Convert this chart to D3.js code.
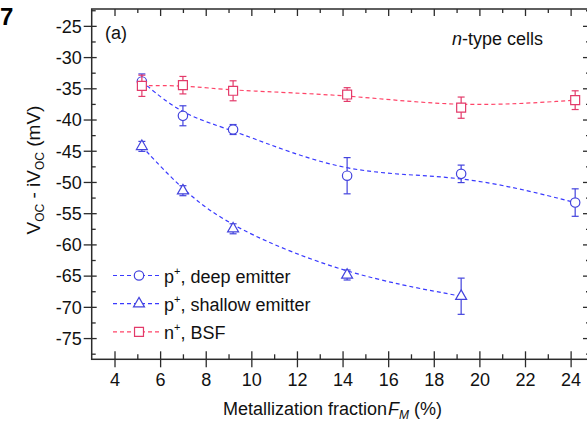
<!DOCTYPE html>
<html>
<head>
<meta charset="utf-8">
<script src="https://cdn.jsdelivr.net/npm/d3@7"></script>
<style>
  html, body { margin: 0; padding: 0; background: #fff; }
  svg { display: block; font-family: "Liberation Sans", Arial, sans-serif; }
</style>
</head>
<body>
<svg id="chart" width="587" height="422"></svg>
<script>
// Metallization fraction F_M (%) of the measured cells
const fm = [5.2, 7.0, 9.2, 14.2, 19.2, 24.2];

// Voc - iVoc (mV) with error bars, for each group of n-type cells
const deepEmitter = [-33.9, -39.4, -41.6, -49.0, -48.7, -53.3];
const deepEmitterErr = [1.2, 1.6, 0.8, 2.9, 1.4, 2.2];

const shallowEmitter = [-44.3, -51.4, -57.5, -64.9, -68.3];
const shallowEmitterErr = [0.8, 0.8, 0.8, 0.8, 2.9];

const bsf = [-34.6, -34.5, -35.4, -36.0, -38.1, -36.9];
const bsfErr = [1.7, 1.4, 1.6, 1.1, 1.7, 1.5];

const xMajorTicks = [4, 6, 8, 10, 12, 14, 16, 18, 20, 22, 24];
const xMinorTicks = [5, 7, 9, 11, 13, 15, 17, 19, 21, 23];
const yMajorTicks = [-25, -30, -35, -40, -45, -50, -55, -60, -65, -70, -75];
const yMinorTicks = [-22.5, -27.5, -32.5, -37.5, -42.5, -47.5, -52.5, -57.5, -62.5, -67.5, -72.5, -77.5];

const BLUE = "#4343dd";
const BLUE_LINE = "#3a3aff";
const RED = "#e33a6a";
const RED_LINE = "#ff4468";
const AXIS = "#2b2b2b";

const svg = d3.select("#chart");
const plotLeft = 91.7, plotTop = 9, plotRight = 590, plotBottom = 359.3;

const x = d3.scaleLinear().domain([3, 24.85]).range([plotLeft, plotRight]);
const y = d3.scaleLinear().domain([-78.4, -22.3]).range([plotBottom, plotTop]);

// series definitions
const series = [
  { name: "deep", xs: fm, ys: deepEmitter, err: deepEmitterErr, color: BLUE, line: BLUE_LINE, symbol: "circle" },
  { name: "shallow", xs: fm.slice(0, shallowEmitter.length), ys: shallowEmitter, err: shallowEmitterErr, color: BLUE, line: BLUE_LINE, symbol: "triangle" },
  { name: "bsf", xs: fm, ys: bsf, err: bsfErr, color: RED, line: RED_LINE, symbol: "square" }
];

const symbolPath = {
  circle: d3.symbol(d3.symbolCircle, Math.PI * 4.7 * 4.7)(),
  triangle: d3.symbol(d3.symbolTriangle, 52)(),
  square: d3.symbol(d3.symbolSquare, 80)()
};

// fitted dashed curves
const line = d3.line().x(d => x(d[0])).y(d => y(d[1])).curve(d3.curveBasis);
series.forEach(s => {
  svg.append("path")
    .attr("d", line(s.xs.map((v, i) => [v, s.ys[i]])))
    .attr("fill", "none")
    .attr("stroke", s.line)
    .attr("stroke-width", 1.2)
    .attr("stroke-dasharray", "4,3");
});

// error bars and markers
series.forEach(s => {
  const g = svg.append("g").attr("stroke", s.color).attr("stroke-width", 1.2).attr("fill", "none");
  s.xs.forEach((v, i) => {
    const cx = x(v), hi = y(s.ys[i] + s.err[i]), lo = y(s.ys[i] - s.err[i]);
    g.append("line").attr("x1", cx).attr("x2", cx).attr("y1", hi).attr("y2", lo);
    g.append("line").attr("x1", cx - 3.5).attr("x2", cx + 3.5).attr("y1", hi).attr("y2", hi);
    g.append("line").attr("x1", cx - 3.5).attr("x2", cx + 3.5).attr("y1", lo).attr("y2", lo);
    g.append("path").attr("d", symbolPath[s.symbol])
      .attr("transform", `translate(${cx},${y(s.ys[i])})`)
      .attr("fill", "#fff");
  });
});

// axes
function styleAxis(g) {
  g.select(".domain").remove();
  g.selectAll("line").attr("stroke", AXIS).attr("stroke-width", 1.3);
  g.selectAll("text").attr("fill", "#111").style("font-size", "18px").style("font-family", "Liberation Sans, Arial, sans-serif");
}

// bottom
const bx = svg.append("g").attr("transform", `translate(0,${plotBottom})`)
  .call(d3.axisBottom(x).tickValues(xMajorTicks).tickSize(8).tickPadding(6).tickFormat(d3.format("d")));
styleAxis(bx);
bx.selectAll(".tick line").attr("y1", -8);
const bxm = svg.append("g").attr("transform", `translate(0,${plotBottom})`)
  .call(d3.axisBottom(x).tickValues(xMinorTicks).tickSize(-5).tickFormat(""));
styleAxis(bxm);

// top
const tx = svg.append("g").attr("transform", `translate(0,${plotTop})`)
  .call(d3.axisTop(x).tickValues(xMajorTicks).tickSize(-7).tickFormat(""));
styleAxis(tx);
const txm = svg.append("g").attr("transform", `translate(0,${plotTop})`)
  .call(d3.axisTop(x).tickValues(xMinorTicks).tickSize(-4).tickFormat(""));
styleAxis(txm);

// left
const fmtY = d => d < 0 ? "-" + Math.abs(d) : String(d);
const ly = svg.append("g").attr("transform", `translate(${plotLeft},0)`)
  .call(d3.axisLeft(y).tickValues(yMajorTicks).tickSize(8).tickPadding(2).tickFormat(fmtY));
styleAxis(ly);
ly.selectAll(".tick line").attr("x1", 5);
ly.selectAll(".tick text").attr("dy", "0.35em");
const lym = svg.append("g").attr("transform", `translate(${plotLeft},0)`)
  .call(d3.axisLeft(y).tickValues(yMinorTicks).tickSize(-4).tickFormat(""));
styleAxis(lym);

// right
const ry = svg.append("g").attr("transform", `translate(${plotRight},0)`)
  .call(d3.axisRight(y).tickValues(yMajorTicks).tickSize(-7).tickFormat(""));
styleAxis(ry);
const rym = svg.append("g").attr("transform", `translate(${plotRight},0)`)
  .call(d3.axisRight(y).tickValues(yMinorTicks).tickSize(-4).tickFormat(""));
styleAxis(rym);

// frame
svg.append("rect")
  .attr("x", plotLeft).attr("y", plotTop)
  .attr("width", plotRight - plotLeft).attr("height", plotBottom - plotTop)
  .attr("fill", "none").attr("stroke", AXIS).attr("stroke-width", 1.5);

// axis titles
const xt = svg.append("text")
  .attr("x", 223).attr("y", 415)
  .attr("fill", "#111").style("font-size", "18px");
xt.append("tspan").text("Metallization fraction");
xt.append("tspan").attr("dx", 1).attr("font-style", "italic").text("F");
xt.append("tspan").attr("font-style", "italic").attr("dy", 4).style("font-size", "12px").text("M");
xt.append("tspan").attr("dy", -4).text(" (%)");

const yt = svg.append("text")
  .attr("transform", "translate(40,170) rotate(-90)")
  .attr("text-anchor", "middle")
  .attr("fill", "#111").style("font-size", "19px");
yt.append("tspan").text("V");
yt.append("tspan").attr("dy", 4).style("font-size", "12px").text("OC");
yt.append("tspan").attr("dy", -4).text(" - iV");
yt.append("tspan").attr("dy", 4).style("font-size", "12px").text("OC");
yt.append("tspan").attr("dy", -4).text(" (mV)");

// panel annotations
svg.append("text").attr("x", 105).attr("y", 39).attr("fill", "#111")
  .style("font-size", "18px").text("(a)");
const nt = svg.append("text").attr("x", 452).attr("y", 45).attr("fill", "#111").style("font-size", "18px");
nt.append("tspan").attr("font-style", "italic").text("n");
nt.append("tspan").text("-type cells");

svg.append("text").attr("x", 0).attr("y", 25).attr("fill", "#000")
  .style("font-size", "24px").style("font-weight", "bold").text("7");

// legend
const legendItems = [
  { s: series[0], sup: "+", base: "p", label: ", deep emitter" },
  { s: series[1], sup: "+", base: "p", label: ", shallow emitter" },
  { s: series[2], sup: "+", base: "n", label: ", BSF" }
];
legendItems.forEach((it, i) => {
  const cy = 275.5 + i * 28.2;
  const g = svg.append("g");
  g.append("line").attr("x1", 113).attr("x2", 160).attr("y1", cy).attr("y2", cy)
    .attr("stroke", it.s.line).attr("stroke-width", 1.2).attr("stroke-dasharray", "4,3");
  g.append("path").attr("d", symbolPath[it.s.symbol])
    .attr("transform", `translate(139,${cy})`)
    .attr("fill", "#fff").attr("stroke", it.s.color).attr("stroke-width", 1.2);
  const t = g.append("text").attr("x", 164).attr("y", cy + 7).attr("fill", "#111").style("font-size", "18px");
  t.append("tspan").text(it.base);
  t.append("tspan").attr("dy", -8).style("font-size", "11px").text(it.sup);
  t.append("tspan").attr("dy", 8).text(it.label);
});
</script>
</body>
</html>
